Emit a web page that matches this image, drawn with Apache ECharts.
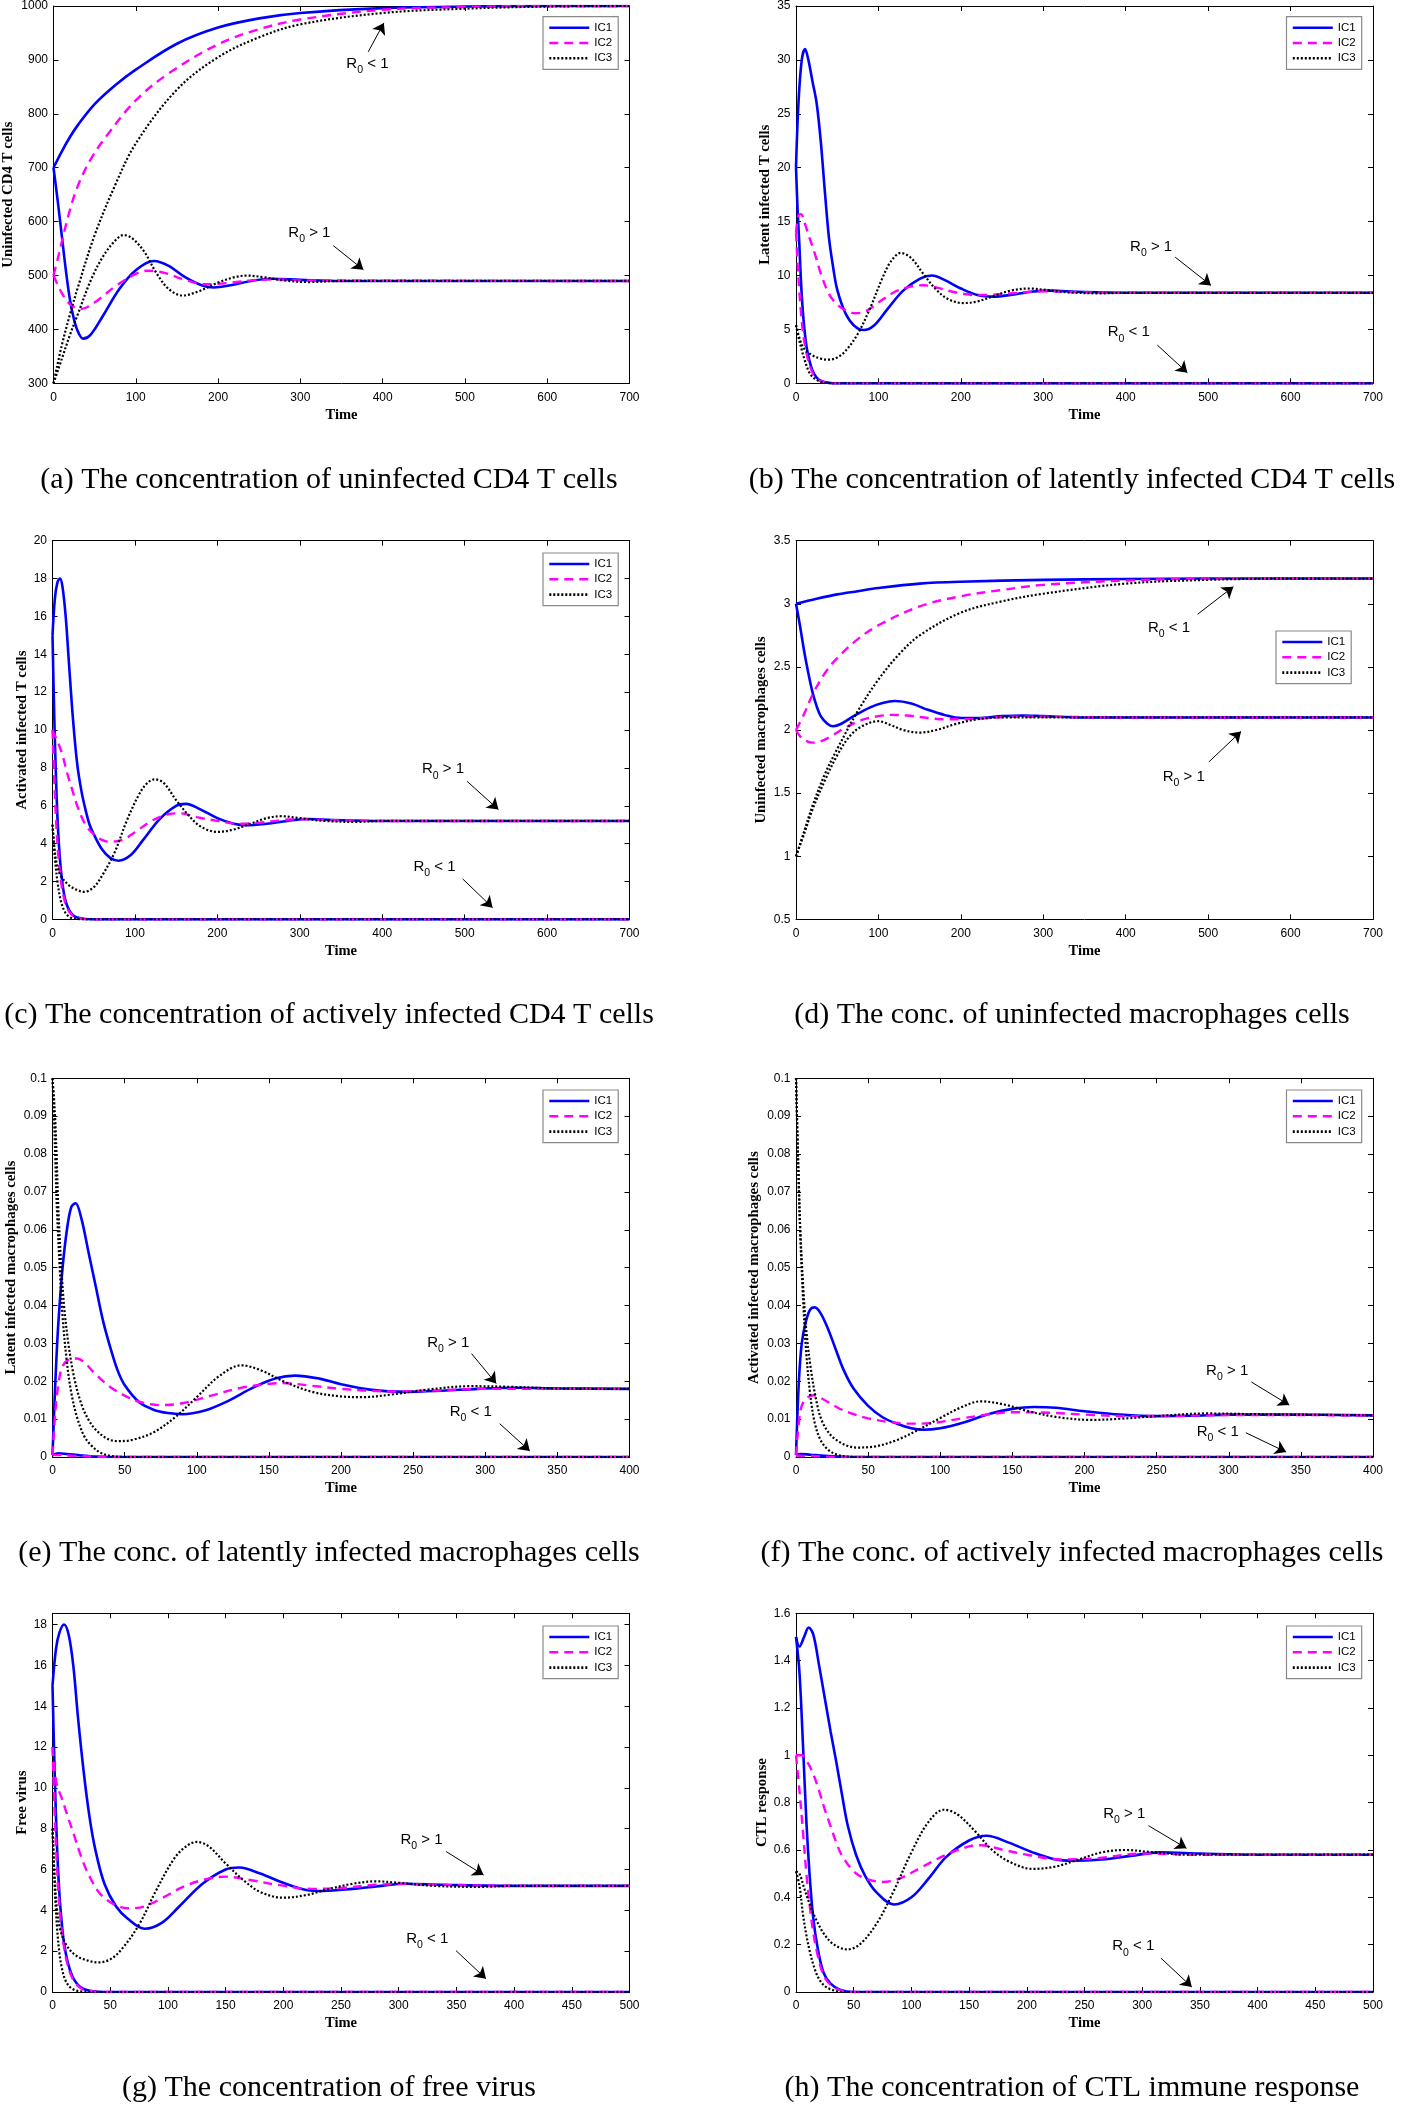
<!DOCTYPE html>
<html><head><meta charset="utf-8">
<script src="https://cdn.jsdelivr.net/npm/echarts@6/dist/echarts.min.js"></script>
<style>html,body{margin:0;padding:0;background:#fff}#c{width:1402px;height:2104px}</style>
</head><body><div id="c"></div>
<script>
// ---------------- DATA (time, value) ----------------
// (a) Uninfected CD4 T cells
const a_IC1_lt = [[0,700],[10,730],[20,757],[30,780],[50,818],[75,853],[100,882],[150,930],[200,960],[250,977],[300,987],[400,996],[500,999],[600,1000],[700,1000]];
const a_IC2_lt = [[0,500],[5,530],[10,562],[20,622],[30,668],[45,715],[65,760],[100,825],[140,875],[200,929],[250,957],[300,975],[400,993],[500,998],[600,1000],[700,1000]];
const a_IC3_lt = [[0,300],[10,370],[20,428],[30,480],[50,575],[75,668],[100,745],[150,845],[200,905],[250,942],[300,966],[400,987],[500,995],[600,999],[700,1000]];
const a_IC1_gt = [[0,700],[5,640],[10,575],[15,510],[20,455],[25,418],[30,395],[36,383],[45,390],[60,425],[80,475],[100,510],[122,527],[140,518],[160,497],[180,482],[195,478],[215,482],[240,490],[265,494],[300,492],[350,490],[700,490]];
const a_IC2_gt = [[0,500],[10,468],[20,447],[33,438],[50,450],[75,480],[100,503],[115,509],[135,505],[160,492],[185,484],[210,486],[240,491],[270,493],[300,491],[700,490]];
const a_IC3_gt = [[0,300],[10,345],[20,390],[30,430],[45,490],[60,535],[75,565],[85,575],[95,570],[110,545],[125,505],[140,475],[157,463],[175,470],[200,487],[220,497],[235,500],[255,497],[280,491],[310,488],[350,490],[700,490]];
// (b) Latent infected T cells
const b_IC1_gt = [[0,20],[3,26],[7,30],[11,31],[15,30],[20,28],[25,26],[30,22.5],[35,17.8],[40,13.5],[45,10.8],[50,8.7],[60,6.5],[70,5.4],[82,4.95],[95,5.4],[110,6.8],[130,8.6],[150,9.7],[165,10],[180,9.6],[200,8.8],[220,8.2],[240,8.05],[260,8.2],[285,8.5],[310,8.6],[340,8.5],[400,8.4],[700,8.4]];
const b_IC2_gt = [[0,14],[3,15.6],[6,15.7],[10,15],[15,13.8],[20,12.7],[25,11.5],[30,10.2],[40,8.3],[50,7.3],[60,6.8],[72,6.5],[85,6.7],[100,7.5],[120,8.5],[140,9.0],[155,9.1],[170,8.9],[190,8.5],[210,8.25],[230,8.2],[260,8.35],[300,8.55],[340,8.45],[400,8.4],[700,8.4]];
const b_IC3_gt = [[0,5.4],[5,4.0],[10,3.2],[20,2.6],[30,2.3],[40,2.2],[50,2.4],[60,3.0],[75,4.6],[90,7.0],[105,9.8],[115,11.3],[127,12.1],[140,11.6],[155,10.1],[170,8.7],[185,7.8],[203,7.45],[220,7.6],[240,8.1],[260,8.6],[283,8.8],[305,8.65],[330,8.45],[370,8.35],[400,8.4],[700,8.4]];
const b_IC1_lt = [[0,20],[2,16],[4,13],[6,9.5],[8,7],[10,5.2],[13,3.3],[16,2.2],[20,1.2],[25,0.55],[30,0.25],[40,0.05],[50,0],[700,0]];
const b_IC2_lt = [[0,14],[2,11],[4,8.6],[6,6.6],[8,5.0],[10,3.9],[13,2.7],[16,1.8],[20,1.0],[25,0.45],[30,0.2],[40,0.04],[50,0],[700,0]];
const b_IC3_lt = [[0,5.4],[3,4.3],[7,3.1],[10,2.3],[15,1.2],[20,0.6],[26,0.3],[32,0.1],[40,0.02],[50,0],[700,0]];
// (c) Activated infected T cells
const c_IC1_gt = [[0,15],[3,17],[6,17.8],[9,18],[12,17.6],[16,16],[20,13.5],[25,10.5],[30,8.2],[35,6.8],[40,5.8],[45,5.0],[50,4.5],[60,3.7],[70,3.25],[80,3.1],[95,3.4],[110,4.2],[130,5.3],[150,6.0],[162,6.1],[180,5.8],[200,5.35],[220,5.05],[235,4.97],[260,5.05],[285,5.2],[310,5.3],[340,5.25],[400,5.2],[700,5.2]];
const c_IC2_gt = [[0,10],[3,9.7],[8,9.2],[12,8.7],[18,7.7],[25,6.7],[30,6.0],[40,5.0],[50,4.5],[60,4.2],[70,4.1],[85,4.2],[100,4.6],[120,5.2],[140,5.55],[155,5.6],[175,5.4],[200,5.2],[225,5.05],[250,5.1],[280,5.25],[300,5.3],[330,5.25],[400,5.2],[700,5.2]];
const c_IC3_gt = [[0,5],[3,3.5],[6,2.8],[10,2.3],[20,1.8],[30,1.55],[38,1.45],[50,1.7],[60,2.3],[75,3.5],[90,5.2],[105,6.6],[115,7.2],[124,7.4],[135,7.2],[150,6.3],[165,5.5],[180,4.9],[200,4.62],[220,4.75],[240,5.05],[260,5.35],[278,5.45],[300,5.35],[330,5.2],[370,5.15],[400,5.2],[700,5.2]];
const c_IC1_lt = [[0,15],[2,11],[4,7.8],[6,5.4],[8,3.8],[10,2.7],[13,1.6],[16,0.95],[20,0.5],[25,0.22],[30,0.1],[40,0.02],[50,0],[700,0]];
const c_IC2_lt = [[0,10],[2,7.5],[4,5.5],[6,4.0],[8,2.9],[10,2.1],[13,1.3],[16,0.8],[20,0.42],[25,0.18],[30,0.08],[40,0.01],[50,0],[700,0]];
const c_IC3_lt = [[0,5],[3,3.2],[6,2.0],[10,1.0],[15,0.4],[20,0.15],[25,0.05],[35,0],[700,0]];
// (d) Uninfected macrophages
const d_IC1_lt = [[0,3.0],[25,3.04],[50,3.075],[75,3.1],[100,3.125],[150,3.16],[200,3.175],[300,3.19],[400,3.196],[500,3.2],[700,3.2]];
const d_IC2_lt = [[0,2.0],[10,2.13],[20,2.28],[35,2.45],[50,2.57],[75,2.72],[100,2.83],[150,2.98],[200,3.06],[250,3.11],[300,3.15],[400,3.185],[500,3.198],[700,3.2]];
const d_IC3_lt = [[0,1.0],[10,1.2],[20,1.4],[35,1.65],[50,1.85],[75,2.15],[100,2.4],[125,2.6],[150,2.75],[200,2.93],[250,3.02],[300,3.08],[400,3.16],[500,3.19],[600,3.2],[700,3.2]];
const d_IC1_gt = [[0,3.0],[5,2.82],[10,2.62],[15,2.45],[20,2.3],[25,2.19],[30,2.11],[38,2.05],[45,2.03],[55,2.05],[70,2.11],[90,2.18],[105,2.215],[120,2.23],[140,2.21],[160,2.16],[180,2.12],[200,2.095],[220,2.095],[250,2.11],[275,2.115],[300,2.11],[350,2.1],[700,2.1]];
const d_IC2_gt = [[0,2.0],[5,1.95],[12,1.915],[20,1.9],[30,1.91],[45,1.96],[60,2.02],[80,2.08],[100,2.11],[115,2.12],[135,2.115],[160,2.095],[180,2.085],[200,2.085],[230,2.095],[260,2.105],[300,2.105],[400,2.1],[700,2.1]];
const d_IC3_gt = [[0,1.0],[10,1.18],[20,1.37],[35,1.6],[50,1.8],[65,1.95],[80,2.03],[100,2.07],[115,2.04],[130,2.0],[150,1.98],[170,2.0],[195,2.05],[220,2.085],[250,2.1],[300,2.1],[700,2.1]];
// (e) Latent infected macrophages
const e_IC1_gt = [[0,0.0005],[2,0.02],[4,0.035],[7,0.05],[10,0.06],[13,0.066],[16,0.067],[20,0.063],[25,0.054],[30,0.045],[35,0.036],[40,0.029],[45,0.023],[50,0.019],[60,0.0145],[70,0.0125],[80,0.0116],[90,0.0113],[105,0.0122],[120,0.0145],[140,0.0185],[155,0.0208],[168,0.0215],[185,0.0207],[200,0.0192],[220,0.0178],[245,0.0172],[270,0.0175],[295,0.018],[320,0.0183],[350,0.0181],[400,0.018]];
const e_IC2_gt = [[0,0.0005],[2,0.012],[4,0.019],[7,0.024],[12,0.0258],[17,0.026],[22,0.025],[30,0.0218],[40,0.0185],[50,0.0162],[60,0.0146],[75,0.0137],[90,0.0142],[110,0.0162],[130,0.0182],[150,0.0193],[160,0.0195],[180,0.0188],[200,0.018],[220,0.0175],[235,0.0173],[260,0.0175],[300,0.018],[400,0.018]];
const e_IC3_gt = [[0,0.1],[1,0.095],[2,0.088],[3,0.078],[4,0.066],[6,0.051],[8,0.04],[11,0.03],[15,0.021],[20,0.014],[25,0.0098],[30,0.0072],[38,0.0048],[45,0.0042],[55,0.0045],[70,0.0065],[85,0.0105],[100,0.0158],[115,0.0212],[131,0.0242],[145,0.0228],[160,0.02],[180,0.0172],[200,0.016],[215,0.0158],[235,0.0165],[260,0.0178],[290,0.0187],[320,0.0185],[350,0.0181],[400,0.018]];
const e_IC1_lt = [[0,0.0005],[4,0.001],[10,0.0008],[20,0.0004],[30,0.0001],[40,0],[400,0]];
const e_IC2_lt = [[0,0.0005],[5,0.0005],[15,0.0003],[30,0.0001],[40,0],[400,0]];
const e_IC3_lt = [[0,0.1],[1,0.09],[2,0.078],[3,0.066],[5,0.05],[7,0.037],[10,0.025],[13,0.017],[17,0.0105],[22,0.0055],[27,0.003],[33,0.0012],[40,0.0003],[50,0],[400,0]];
// (f) Activated infected macrophages
const f_IC1_gt = [[0,0.0005],[2,0.02],[4,0.03],[7,0.036],[10,0.039],[13,0.0395],[17,0.038],[22,0.034],[27,0.029],[33,0.023],[40,0.018],[50,0.0135],[60,0.0105],[70,0.0088],[80,0.0076],[88,0.0072],[100,0.0076],[115,0.009],[135,0.0115],[150,0.0127],[165,0.0132],[180,0.013],[200,0.0121],[225,0.0112],[250,0.0108],[275,0.0109],[300,0.0112],[340,0.0112],[400,0.011]];
const f_IC2_gt = [[0,0.0005],[3,0.012],[6,0.015],[12,0.0163],[20,0.015],[30,0.0128],[40,0.0113],[50,0.0102],[65,0.0092],[80,0.0088],[95,0.009],[115,0.0102],[135,0.0113],[150,0.0118],[175,0.0117],[200,0.0112],[230,0.0108],[270,0.0109],[300,0.0111],[400,0.011]];
const f_IC3_gt = [[0,0.1],[1,0.085],[2,0.072],[3,0.06],[5,0.045],[7,0.034],[10,0.024],[14,0.015],[18,0.0095],[24,0.0058],[30,0.004],[36,0.0029],[42,0.0025],[55,0.0028],[70,0.0045],[85,0.0072],[100,0.0103],[115,0.0132],[128,0.0147],[145,0.0138],[160,0.0122],[180,0.0106],[205,0.0098],[225,0.0101],[250,0.0108],[285,0.0115],[320,0.0113],[400,0.011]];
const f_IC1_lt = [[0,0.0005],[3,0.0008],[10,0.0006],[20,0.0003],[30,0.0001],[40,0],[400,0]];
const f_IC2_lt = [[0,0.0004],[5,0.0003],[15,0.0002],[30,0],[400,0]];
const f_IC3_lt = [[0,0.1],[1,0.085],[2,0.07],[3,0.058],[5,0.041],[7,0.028],[10,0.016],[13,0.009],[17,0.0045],[22,0.002],[28,0.0007],[35,0.0001],[45,0],[400,0]];
// (g) Free virus
const g_IC1_gt = [[0,15],[3,16.8],[6,17.6],[10,18],[14,17.5],[18,16],[22,13.5],[27,10.8],[32,8.6],[37,7.0],[45,5.3],[55,4.2],[65,3.6],[80,3.1],[95,3.4],[110,4.2],[130,5.3],[150,6.0],[162,6.1],[180,5.8],[200,5.35],[220,5.0],[235,4.95],[260,5.05],[285,5.2],[305,5.3],[340,5.25],[400,5.2],[500,5.2]];
const g_IC2_gt = [[0,12],[2,10.8],[4,10.1],[8,9.5],[12,8.8],[18,7.8],[25,6.6],[30,5.9],[40,4.9],[50,4.4],[60,4.15],[68,4.1],[80,4.2],[95,4.6],[115,5.2],[135,5.55],[150,5.65],[170,5.5],[195,5.25],[225,5.05],[250,5.1],[280,5.25],[300,5.3],[330,5.25],[400,5.2],[500,5.2]];
const g_IC3_gt = [[0,8],[2,5.5],[4,4.0],[7,3.0],[12,2.3],[20,1.8],[30,1.55],[40,1.45],[50,1.6],[60,2.1],[75,3.3],[90,5.0],[105,6.5],[115,7.1],[125,7.35],[135,7.15],[150,6.3],[165,5.5],[180,4.9],[200,4.62],[220,4.75],[240,5.05],[260,5.3],[280,5.42],[300,5.35],[330,5.2],[370,5.15],[400,5.2],[500,5.2]];
const g_IC1_lt = [[0,15],[2,10.5],[4,7],[6,4.8],[8,3.4],[10,2.4],[13,1.5],[17,0.8],[22,0.35],[27,0.15],[35,0.04],[45,0],[500,0]];
const g_IC2_lt = [[0,12],[2,8.5],[4,6],[6,4.2],[8,3],[10,2.2],[13,1.35],[17,0.7],[22,0.3],[27,0.12],[35,0.03],[45,0],[500,0]];
const g_IC3_lt = [[0,8],[2,5],[4,3.1],[6,1.9],[8,1.2],[11,0.6],[15,0.25],[20,0.08],[26,0.02],[35,0],[500,0]];
// (h) CTL response
const h_IC1_gt = [[0,1.5],[3,1.46],[7,1.5],[11,1.54],[15,1.51],[20,1.38],[25,1.24],[30,1.1],[35,0.97],[40,0.83],[45,0.7],[52,0.58],[60,0.49],[70,0.42],[85,0.37],[100,0.4],[115,0.48],[130,0.57],[150,0.64],[165,0.66],[185,0.63],[205,0.59],[225,0.56],[240,0.555],[265,0.56],[290,0.575],[315,0.59],[350,0.585],[400,0.58],[500,0.58]];
const h_IC2_gt = [[0,1.0],[5,1.0],[10,0.97],[15,0.92],[20,0.85],[25,0.77],[30,0.7],[35,0.63],[40,0.575],[50,0.51],[60,0.48],[75,0.465],[90,0.48],[110,0.53],[130,0.58],[150,0.615],[160,0.62],[180,0.6],[200,0.58],[230,0.56],[260,0.565],[300,0.585],[350,0.58],[500,0.58]];
const h_IC3_gt = [[0,0.51],[3,0.5],[7,0.44],[12,0.37],[18,0.3],[25,0.24],[33,0.2],[44,0.18],[55,0.2],[70,0.29],[85,0.43],[100,0.59],[115,0.72],[128,0.77],[140,0.75],[155,0.68],[170,0.6],[185,0.55],[205,0.52],[225,0.53],[245,0.56],[265,0.59],[285,0.6],[310,0.59],[340,0.58],[400,0.58],[500,0.58]];
const h_IC1_lt = [[0,1.5],[3,1.35],[6,1.05],[9,0.72],[12,0.48],[15,0.31],[19,0.18],[24,0.08],[30,0.035],[38,0.01],[50,0],[500,0]];
const h_IC2_lt = [[0,1.0],[3,0.85],[6,0.68],[9,0.5],[12,0.36],[15,0.25],[19,0.15],[24,0.07],[30,0.03],[38,0.008],[50,0],[500,0]];
const h_IC3_lt = [[0,0.51],[3,0.45],[6,0.33],[9,0.24],[12,0.17],[16,0.1],[20,0.055],[25,0.025],[32,0.008],[40,0],[500,0]];

// ---------------- TICKS ----------------
const xTicks700 = [0,100,200,300,400,500,600,700];
const xTicks400 = [0,50,100,150,200,250,300,350,400];
const xTicks500 = [0,50,100,150,200,250,300,350,400,450,500];
const aYTicks = [300,400,500,600,700,800,900,1000];
const bYTicks = [0,5,10,15,20,25,30,35];
const cYTicks = [0,2,4,6,8,10,12,14,16,18,20];
const dYTicks = [0.5,1,1.5,2,2.5,3,3.5];
const eYTicks = [0,0.01,0.02,0.03,0.04,0.05,0.06,0.07,0.08,0.09,0.1];
const fYTicks = [0,0.01,0.02,0.03,0.04,0.05,0.06,0.07,0.08,0.09,0.1];
const gYTicks = [0,2,4,6,8,10,12,14,16,18];
const gYMax = 18.55;
const hYTicks = [0,0.2,0.4,0.6,0.8,1,1.2,1.4,1.6];

// ---------------- ANNOTATIONS (data coords) ----------------
const aLabels = [[381.5,893,'<'],[311,579,'>']];
const aArrows = [[382.5,915,401.5,968.6],[340,555.6,376.6,510.8]];
const bLabels = [[430.8,12.7,'>'],[403.7,4.75,'<']];
const bArrows = [[460,11.71,503.5,9.09],[438.4,3.55,474.8,0.99]];
const cLabels = [[473.7,7.93,'>'],[463.4,2.78,'<']];
const cArrows = [[503,7.29,541,5.8],[497.6,2.14,533.9,0.62]];
const dLabels = [[452.5,2.812,'<'],[470.4,1.633,'>']];
const dArrows = [[487.2,2.917,530.6,3.136],[500.8,1.747,539.9,1.989]];
const eLabels = [[274.4,0.0301,'>'],[290,0.012,'<']];
const eArrows = [[290.5,0.0273,307.6,0.0194],[310,0.0088,330.9,0.0016]];
const fLabels = [[298.9,0.0228,'>'],[292.4,0.0066,'<']];
const fArrows = [[315.7,0.0198,342,0.0137],[311.9,0.0064,339.8,0.0013]];
const gLabels = [[319.8,7.45,'>'],[324.8,2.62,'<']];
const gArrows = [[341.1,6.88,373.6,5.73],[349.6,2.03,375.6,0.65]];
const hLabels = [[284.5,0.752,'>'],[292.2,0.193,'<']];
const hArrows = [[305.4,0.703,338.4,0.607],[316.3,0.143,343,0.021]];

const panels = [
 {ylab:'Uninfected CD4 T cells', cap:'(a) The concentration of uninfected CD4 T cells', xt:xTicks700, yt:aYTicks,
  c:{IC1:[a_IC1_lt,a_IC1_gt], IC2:[a_IC2_lt,a_IC2_gt], IC3:[a_IC3_lt,a_IC3_gt]}, L:aLabels, A:aArrows},
 {ylab:'Latent infected T cells', cap:'(b) The concentration of latently infected CD4 T cells', xt:xTicks700, yt:bYTicks,
  c:{IC1:[b_IC1_lt,b_IC1_gt], IC2:[b_IC2_lt,b_IC2_gt], IC3:[b_IC3_lt,b_IC3_gt]}, L:bLabels, A:bArrows},
 {ylab:'Activated infected T cells', cap:'(c) The concentration of actively infected CD4 T cells', xt:xTicks700, yt:cYTicks,
  c:{IC1:[c_IC1_lt,c_IC1_gt], IC2:[c_IC2_lt,c_IC2_gt], IC3:[c_IC3_lt,c_IC3_gt]}, L:cLabels, A:cArrows},
 {ylab:'Uninfected macrophages cells', cap:'(d) The conc. of uninfected macrophages cells', xt:xTicks700, yt:dYTicks,
  c:{IC1:[d_IC1_lt,d_IC1_gt], IC2:[d_IC2_lt,d_IC2_gt], IC3:[d_IC3_lt,d_IC3_gt]}, L:dLabels, A:dArrows},
 {ylab:'Latent infected macrophages cells', cap:'(e) The conc. of latently infected macrophages cells', xt:xTicks400, yt:eYTicks,
  c:{IC1:[e_IC1_lt,e_IC1_gt], IC2:[e_IC2_lt,e_IC2_gt], IC3:[e_IC3_lt,e_IC3_gt]}, L:eLabels, A:eArrows},
 {ylab:'Activated infected macrophages cells', cap:'(f) The conc. of actively infected macrophages cells', xt:xTicks400, yt:fYTicks,
  c:{IC1:[f_IC1_lt,f_IC1_gt], IC2:[f_IC2_lt,f_IC2_gt], IC3:[f_IC3_lt,f_IC3_gt]}, L:fLabels, A:fArrows},
 {ylab:'Free virus', cap:'(g) The concentration of free virus', xt:xTicks500, yt:gYTicks, ymax:gYMax,
  c:{IC1:[g_IC1_lt,g_IC1_gt], IC2:[g_IC2_lt,g_IC2_gt], IC3:[g_IC3_lt,g_IC3_gt]}, L:gLabels, A:gArrows},
 {ylab:'CTL response', cap:'(h) The concentration of CTL immune response', xt:xTicks500, yt:hYTicks,
  c:{IC1:[h_IC1_lt,h_IC1_gt], IC2:[h_IC2_lt,h_IC2_gt], IC3:[h_IC3_lt,h_IC3_gt]}, L:hLabels, A:hArrows}
];

// ---------------- LAYOUT / STYLE ----------------
const COL_LEFT = [52.5, 796];
const PLOT_W = 577, PLOT_H = 378.7;
const ROW_TOP = [4.7, 540.7, 1078.3, 1613.3];
const CAP_X = [329, 1072];
const CAP_Y = [480, 1015, 1553, 2088];
const YNAME_GAP = [37.5, 23, 23, 27.7, 33.5, 34.4, 23, 26.3];
const LEG_POS = [[543,16.7],[1286.5,16.7],[543,553],[1276,631],[543,1090],[1286.5,1090],[543,1626],[1286.5,1626]];
const IC = ['IC1','IC2','IC3'];
const STY = {
  IC1:{color:'#0000ff', width:2.6, type:'solid'},
  IC2:{color:'#ff00ff', width:2.4, type:[9,6]},
  IC3:{color:'#000000', width:2.2, type:[2,2]}
};
const SANS = 'Liberation Sans, Arial, sans-serif';
const SERIF = 'Liberation Serif, Times New Roman, serif';
const fmt = v => String(Math.round(v*1e6)/1e6);

const grid=[], xAxis=[], yAxis=[], series=[], legend=[], graphic=[];
panels.forEach((p, gi) => {
  const col = gi % 2, row = Math.floor(gi/2);
  grid.push({left: COL_LEFT[col], top: ROW_TOP[row], width: PLOT_W, height: PLOT_H, show:false});
  const xmin = p.xt[0], xmax = p.xt[p.xt.length-1], xint = p.xt[1]-p.xt[0];
  const ymin = p.yt[0], ymax = p.ymax !== undefined ? p.ymax : p.yt[p.yt.length-1], yint = p.yt[1]-p.yt[0];
  const axCommon = {axisLine:{show:true, onZero:false, lineStyle:{color:'#000', width:1}}, axisTick:{show:true, inside:true, length:5, lineStyle:{color:'#000'}}, splitLine:{show:false}};
  xAxis.push(Object.assign({type:'value', gridIndex:gi, position:'bottom', min:xmin, max:xmax, interval:xint,
    name:'Time', nameLocation:'middle', nameGap:24,
    nameTextStyle:{fontFamily:SERIF, fontWeight:'bold', fontSize:14.5, color:'#000'},
    axisLabel:{show:true, margin:8, color:'#000', fontFamily:SANS, fontSize:12, formatter:fmt}}, axCommon));
  xAxis.push(Object.assign({type:'value', gridIndex:gi, position:'top', min:xmin, max:xmax, interval:xint, axisLabel:{show:false}}, axCommon));
  yAxis.push(Object.assign({type:'value', gridIndex:gi, position:'left', min:ymin, max:ymax, interval:yint,
    name:p.ylab, nameLocation:'middle', nameRotate:90, nameGap:YNAME_GAP[gi],
    nameTextStyle:{fontFamily:SERIF, fontWeight:'bold', fontSize:14.8, color:'#000'},
    axisLabel:{show:true, margin:5.5, color:'#000', fontFamily:SANS, fontSize:12, formatter:fmt, showMaxLabel: p.ymax === undefined}}, axCommon));
  yAxis.push(Object.assign({type:'value', gridIndex:gi, position:'right', min:ymin, max:ymax, interval:yint, axisLabel:{show:false}}, axCommon));

  IC.forEach((ic, k) => {
    p.c[ic].forEach(data => {
      series.push({type:'line', name:ic, data:data, xAxisIndex:2*gi, yAxisIndex:2*gi,
        symbol:'none', showSymbol:false, smooth:0.35, silent:true,
        color:STY[ic].color, itemStyle:{color:STY[ic].color}, lineStyle:Object.assign({}, STY[ic]), z:2+k});
    });
  });
  const rich = {a:{fontFamily:SANS, fontSize:15, color:'#000', lineHeight:24}, b:{fontFamily:SANS, fontSize:10.5, color:'#000', lineHeight:24, verticalAlign:'bottom'}};
  series.push({type:'line', name:'annot'+gi, data:[], xAxisIndex:2*gi, yAxisIndex:2*gi, symbol:'none', silent:true, z:6,
    markPoint:{silent:true, symbol:'rect', symbolSize:1, itemStyle:{color:'rgba(0,0,0,0)'},
      label:{show:true, position:'inside', rich:rich},
      data: p.L.map(l => ({coord:[l[0], l[1]], value:0, label:{formatter: '{a|R}{b|0}{a| ' + l[2] + ' 1}'}}))},
    markLine:{silent:true, symbol:['none','arrow'], symbolSize:11, animation:false, precision:6,
      label:{show:false}, lineStyle:{color:'#000', width:1, type:'solid'},
      emphasis:{disabled:true},
      data: p.A.map(a => [{coord:[a[0], a[1]]}, {coord:[a[2], a[3]]}])}
  });
  legend.push({data:IC, orient:'vertical', left:LEG_POS[gi][0], top:LEG_POS[gi][1], itemWidth:40, itemHeight:12, itemGap:3.3,
    padding:[5,6,5,5], backgroundColor:'#fff', borderColor:'#8a8a8a', borderWidth:1.2, selectedMode:false,
    itemStyle:{opacity:0, borderWidth:0}, lineStyle:{width:2.6},
    textStyle:{fontFamily:SANS, fontSize:11.5, color:'#000'}});
  graphic.push({type:'text', x:CAP_X[col], y:CAP_Y[row], style:{text:p.cap, fontFamily:SERIF, fontSize:30, fill:'#000', align:'center', verticalAlign:'middle'}});
});

const chart = echarts.init(document.getElementById('c'), null, {renderer:'canvas'});
chart.setOption({animation:false, backgroundColor:'#fff', grid, xAxis, yAxis, series, legend, graphic});
</script></body></html>
